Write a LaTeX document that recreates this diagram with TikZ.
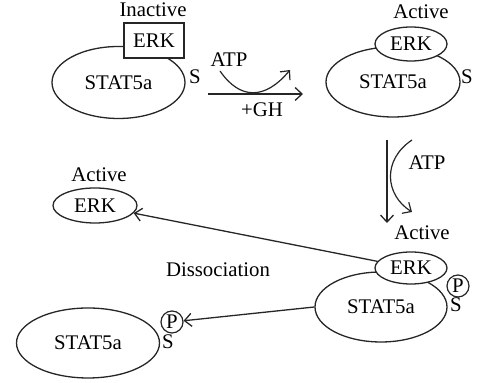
\documentclass[tikz,border=0pt]{standalone}
\usepackage{fontspec}
\setmainfont{Liberation Serif}
\usetikzlibrary{shapes.geometric,arrows.meta}
\tikzset{
  statnode/.style={
    ellipse, draw=black!85, fill=white, line width=0.65pt,
    inner sep=0pt, minimum width=66.5pt, minimum height=36pt
  },
  erknode/.style={statnode, minimum width=35pt, minimum height=17pt},
  erkbox/.style={
    rectangle, draw=black!85, fill=white, line width=0.65pt,
    inner sep=0pt, minimum width=30pt, minimum height=17.5pt
  },
  phos/.style={circle, draw=black!85, line width=0.6pt, inner sep=0pt, minimum size=11pt},
  sglabel/.style={inner sep=0pt},
  sgarrow/.style={-{Straight Barb[length=3.5pt,width=6.5pt]}, line width=0.65pt, draw=black!85},
  sgcurve/.style={sgarrow, line width=0.6pt},
}

\begin{document}
\begin{tikzpicture}[x=0.5pt, y=-0.5pt, font=\fontsize{10.4}{12}\selectfont]
  \useasboundingbox (0,0) rectangle (478,383);
  % inactive complex
  \node (stat1) [statnode] at (118.5,82.5) {STAT5a};
  \node (erk1) [erkbox] at (154,40.5) {ERK};
  \node (inact) [sglabel] at (153,10) {Inactive};
  \node (s1) [sglabel] at (195,77) {S};
  % activation by GH
  \coordinate (r1a) at (208,94);
  \coordinate (r1b) at (303,94);
  \coordinate (c1a) at (220,71);
  \coordinate (c1b) at (290,70);
  \draw[sgarrow] (r1a) -- (r1b);
  \draw[sgcurve] (c1a) .. controls (240,100) and (265,100) .. (c1b);
  \node (atp1) [sglabel] at (229,60) {ATP};
  \node (gh) [sglabel] at (262,110) {+GH};
  % active complex
  \node (stat2) [statnode, minimum width=67pt, minimum height=35pt] at (393,82) {STAT5a};
  \node (erk2) [erknode, minimum width=36pt] at (411,44) {ERK};
  \node (act1) [sglabel] at (421,12) {Active};
  \node (s2) [sglabel] at (467,77) {S};
  % phosphorylation
  \coordinate (r2a) at (387,140);
  \coordinate (r2b) at (387,223);
  \coordinate (c2a) at (412,140);
  \coordinate (c2b) at (412,212);
  \draw[sgarrow] (r2a) -- (r2b);
  \draw[sgcurve] (c2a) .. controls (382,160) and (385,195) .. (c2b);
  \node (atp2) [sglabel] at (427,163) {ATP};
  % phosphorylated complex
  \node (stat3) [statnode, minimum width=66pt, minimum height=35pt] at (381,307) {STAT5a};
  \node (erk3) [erknode, minimum width=36pt, minimum height=16pt] at (411,268) {ERK};
  \node (act3) [sglabel] at (422,233) {Active};
  \node (p3) [phos] at (458,286) {P};
  \node (s3) [sglabel] at (456,305) {S};
  % dissociated
  \node (erk4) [erknode, minimum width=42pt, minimum height=17.5pt] at (95,205.5) {ERK};
  \node (act2) [sglabel] at (99,175) {Active};
  \node (stat4) [statnode, minimum width=71.5pt, minimum height=35pt] at (88,343) {STAT5a};
  \node (p4) [phos] at (172,322) {P};
  \node (s4) [sglabel] at (168,342) {S};
  \node (dissoc) [sglabel] at (218,270) {Dissociation};
  \draw[sgarrow] (erk3) -- (erk4);
  \draw[sgarrow] (stat3.west) -- (p4);
\end{tikzpicture}
\end{document}
